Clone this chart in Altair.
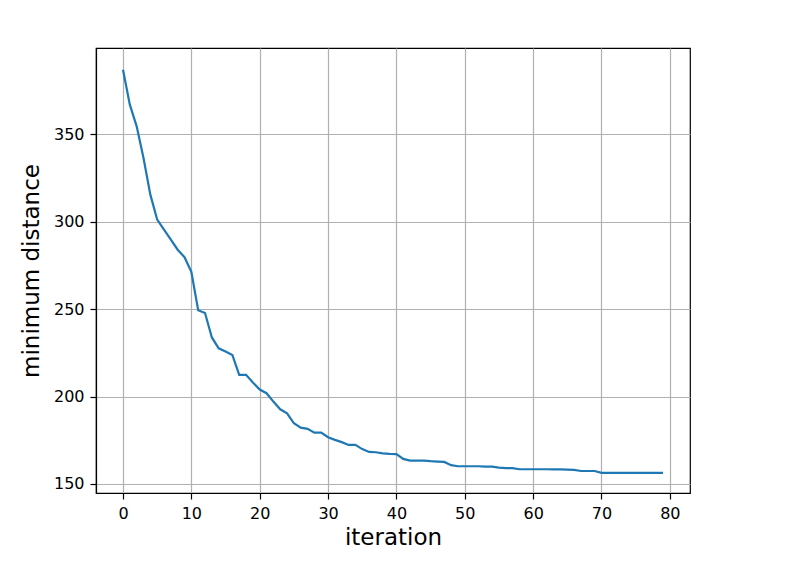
import altair as alt
import pandas as pd

iterations = list(range(80))
min_distance = [
    387.0, 367.0, 354.6, 336.5, 315.5, 301.2, 295.5, 289.8, 284.0, 279.7,
    271.3, 249.4, 247.8, 233.8, 227.6, 225.7, 223.8, 212.4, 212.4, 208.0,
    204.0, 201.9, 197.1, 192.7, 190.4, 184.7, 182.2, 181.5, 179.3, 179.3,
    176.7, 175.2, 173.9, 172.3, 172.3, 169.9, 168.3, 168.1, 167.5, 167.2,
    167.0, 164.3, 163.3, 163.3, 163.3, 163.0, 162.8, 162.6, 160.7, 160.1,
    160.1, 160.1, 160.1, 159.9, 159.9, 159.3, 159.0, 159.0, 158.4, 158.4,
    158.4, 158.4, 158.4, 158.3, 158.3, 158.2, 158.0, 157.4, 157.4, 157.4,
    156.3, 156.3, 156.3, 156.3, 156.3, 156.3, 156.3, 156.3, 156.3, 156.3,
]
x_ticks = [0, 10, 20, 30, 40, 50, 60, 70, 80]
y_ticks = [150, 200, 250, 300, 350]

df = pd.DataFrame({"iteration": iterations, "distance": min_distance})

font = "DejaVu Sans"

chart = alt.Chart(df).mark_line(color="#1f77b4", strokeWidth=2.2, clip=True).encode(
    x=alt.X(
        "iteration:Q",
        scale=alt.Scale(domain=[-3.95, 82.95], nice=False, zero=False),
        axis=alt.Axis(
            values=x_ticks, title="iteration", grid=True, gridColor="#b0b0b0",
            gridWidth=1.2, domainColor="black", domainWidth=1.2, tickColor="black",
            tickSize=6, tickWidth=1.2,
            labelFontSize=16, labelFont=font, labelColor="black", labelPadding=6.5,
            titleFontSize=23, titleFont=font, titleFontWeight="normal",
            titleColor="black", titlePadding=5, labelFlush=False,
        ),
    ),
    y=alt.Y(
        "distance:Q",
        scale=alt.Scale(domain=[144.8, 399.4], nice=False, zero=False),
        axis=alt.Axis(
            values=y_ticks, title="minimum distance", grid=True, gridColor="#b0b0b0",
            gridWidth=1.2, domainColor="black", domainWidth=1.2, tickColor="black",
            tickSize=6, tickWidth=1.2,
            labelFontSize=16, labelFont=font, labelColor="black", labelPadding=6,
            titleFontSize=23, titleFont=font, titleFontWeight="normal",
            titleColor="black", titlePadding=10, labelFlush=False,
        ),
    ),
).properties(
    width=594,
    height=445,
    autosize=alt.AutoSizeParams(type="none"),
    padding={"left": 88, "top": 40, "right": 90, "bottom": 60},
).configure_view(
    stroke="black", strokeWidth=1.2
)

chart.save("out.html", embed_options={"renderer": "svg", "actions": False})
